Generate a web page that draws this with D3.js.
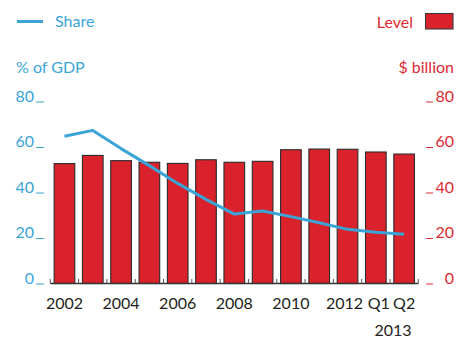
<!DOCTYPE html>
<html>
<head>
<meta charset="utf-8">
<script src="https://cdn.jsdelivr.net/npm/d3@7"></script>
<style>
  html, body { margin: 0; padding: 0; background: #fff; }
  svg text { font-family: Lato, "Open Sans", sans-serif; }
</style>
</head>
<body>
<svg id="chart" width="457" height="339"></svg>
<script>
// Periods on the horizontal axis
const periods = ["2002","2003","2004","2005","2006","2007","2008","2009","2010","2011","2012","2013Q1","2013Q2"];
// Level, $ billion (bars, right axis)
const levelValues = [52.7, 56.3, 54.0, 53.3, 52.8, 54.4, 53.3, 53.7, 58.8, 59.1, 59.0, 57.8, 56.9];
// Share, % of GDP (line, left axis)
const shareValues = [64.7, 67.3, 59.3, 51.8, 44.0, 37.0, 30.5, 31.9, 29.4, 26.7, 23.8, 22.5, 21.6];
// Axis ticks
const yTicks = [0, 20, 40, 60, 80];
// Horizontal labels shown under chosen periods
const xLabels = { "2002": "2002", "2004": "2004", "2006": "2006", "2008": "2008", "2010": "2010", "2012": "2012", "2013Q1": "Q1", "2013Q2": "Q2" };
// Small nudges so the close-packed labels at the right end don't collide
const xNudge = { "2012": -3, "2013Q1": 3, "2013Q2": 0 };

const BLUE = "#3aa4d6", RED = "#d9222c", RED_TEXT = "#dd2a33", DARK = "#231f20";
const FS = 16;
const svg = d3.select("#chart");

const x = d3.scaleBand().domain(periods).range([50.3, 418.3]).paddingInner(0.27).paddingOuter(0.135);
const yLeft = d3.scaleLinear().domain([0, 80]).range([283.5, 101.5]);
const yRight = d3.scaleLinear().domain([0, 80]).range([283.5, 101.5]);

// Bars
svg.append("g").selectAll("rect").data(periods).join("rect")
  .attr("x", d => x(d))
  .attr("width", x.bandwidth())
  .attr("y", (d, i) => yRight(levelValues[i]))
  .attr("height", (d, i) => yRight(0) - yRight(levelValues[i]))
  .attr("fill", RED)
  .attr("stroke", "#2b2b2b")
  .attr("stroke-width", 1.1);

// Baseline with small upward ticks at band boundaries
const step = x.step();
const bounds = d3.range(periods.length + 1).map(i => 50.3 + i * step);
svg.append("line")
  .attr("x1", bounds[0]).attr("x2", bounds[bounds.length - 1])
  .attr("y1", yLeft(0)).attr("y2", yLeft(0))
  .attr("stroke", "#333").attr("stroke-width", 1.4);
svg.append("g").selectAll("line").data(bounds).join("line")
  .attr("x1", d => d).attr("x2", d => d)
  .attr("y1", yLeft(0)).attr("y2", yLeft(0) - 4.5)
  .attr("stroke", "#555").attr("stroke-width", 1);

// Share line
const line = d3.line().x((d, i) => x(periods[i]) + x.bandwidth() / 2).y(d => yLeft(d));
svg.append("path").datum(shareValues)
  .attr("d", line)
  .attr("fill", "none")
  .attr("stroke", BLUE)
  .attr("stroke-width", 3)
  .attr("stroke-linejoin", "round");

// Left axis labels
const left = svg.append("g");
left.selectAll("text").data(yTicks).join("text")
  .attr("x", 34).attr("y", d => yLeft(d))
  .attr("text-anchor", "end")
  .attr("fill", BLUE).attr("font-size", FS)
  .text(d => d);
left.selectAll("line").data(yTicks).join("line")
  .attr("x1", 36).attr("x2", 44)
  .attr("y1", d => yLeft(d) + 0.5).attr("y2", d => yLeft(d) + 0.5)
  .attr("stroke", BLUE).attr("stroke-width", 1);

// Right axis labels
const right = svg.append("g");
right.selectAll("text").data(yTicks).join("text")
  .attr("x", 454).attr("y", d => yRight(d))
  .attr("text-anchor", "end")
  .attr("fill", RED_TEXT).attr("font-size", FS)
  .text(d => d);
right.selectAll("line").data(yTicks).join("line")
  .attr("x1", 426).attr("x2", 433)
  .attr("y1", d => yRight(d) + 0.5).attr("y2", d => yRight(d) + 0.5)
  .attr("stroke", RED_TEXT).attr("stroke-width", 1);

// Horizontal labels
svg.append("g").selectAll("text").data(periods.filter(p => xLabels[p])).join("text")
  .attr("x", d => x(d) + x.bandwidth() / 2 + (xNudge[d] || 0))
  .attr("y", 309)
  .attr("text-anchor", "middle")
  .attr("fill", DARK).attr("font-size", FS)
  .text(d => xLabels[d]);
svg.append("text")
  .attr("x", (x("2013Q1") + x("2013Q2")) / 2 + x.bandwidth() / 2 + 3)
  .attr("y", 336)
  .attr("text-anchor", "middle")
  .attr("fill", DARK).attr("font-size", FS)
  .text("2013");

// Legend and axis titles
svg.append("line").attr("x1", 17).attr("x2", 43).attr("y1", 21.5).attr("y2", 21.5)
  .attr("stroke", BLUE).attr("stroke-width", 3);
svg.append("text").attr("x", 55).attr("y", 27).attr("fill", BLUE).attr("font-size", FS).text("Share");
svg.append("text").attr("x", 16).attr("y", 73).attr("fill", BLUE).attr("font-size", FS).text("% of GDP");

svg.append("text").attr("x", 413).attr("y", 28).attr("text-anchor", "end").attr("fill", RED_TEXT).attr("font-size", FS).text("Level");
svg.append("rect").attr("x", 425.5).attr("y", 13.5).attr("width", 27.5).attr("height", 15.5)
  .attr("fill", RED).attr("stroke", "#3a3a3a").attr("stroke-width", 1.1);
svg.append("text").attr("x", 454).attr("y", 73).attr("text-anchor", "end").attr("fill", RED_TEXT).attr("font-size", FS).text("$ billion");
</script>
</body>
</html>
